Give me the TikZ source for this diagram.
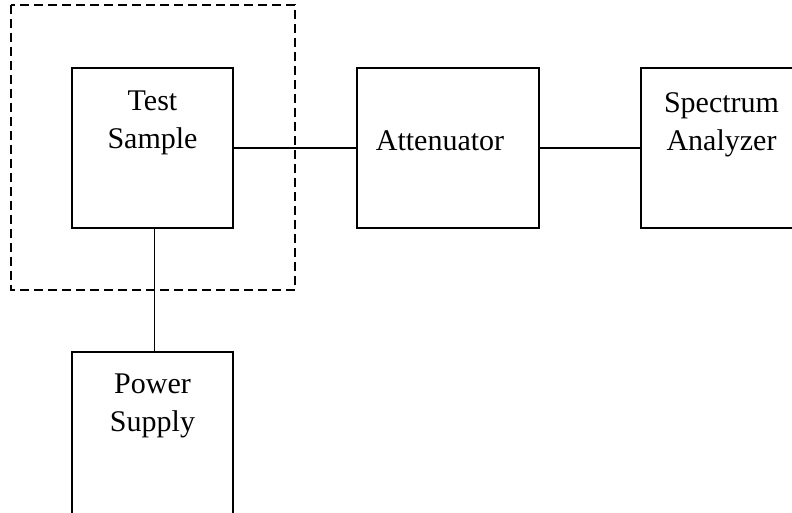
\documentclass[tikz,border=0pt]{standalone}
\usepackage{fontspec}
\setmainfont{Liberation Serif}
\usetikzlibrary{positioning,calc}

\begin{document}
\begin{tikzpicture}[
  x=1pt, y=1pt,
  box/.style={rectangle, draw, line width=1.4pt, minimum height=160pt,
    minimum width=161pt, inner sep=0pt},
  lbl/.style={font=\fontsize{30}{38}\selectfont, align=center, inner sep=0pt, anchor=base},
  wire/.style={line width=1.4pt},
  every node/.style={font=\fontsize{30}{38}\selectfont}
]
  \clip (0,0) rectangle (792,512);
  \useasboundingbox (0,0) rectangle (792,512);

  % Shielded enclosure
  \draw[line width=1.4pt, dash pattern=on 9pt off 5pt] (11,507) rectangle (295,222);

  % Boxes
  \node[box] (sample) at (152.5,364) {};
  \node[box, minimum width=182pt] (atten) at (448,364) {};
  \node[box] (spec) at (721.5,364) {};
  \node[box, minimum height=180pt] (power) at (152.5,70) {};

  % Labels
  \node[lbl] (sampletxt) at ($(sample.center)+(0,-1)$) {Test\\Sample};
  \node[lbl] (attentxt) at ($(atten.center)+(-8,-3)$) {Attenuator};
  \node[lbl] (spectxt) at ($(spec.center)+(0,-3)$) {Spectrum\\Analyzer};
  \node[lbl] (powertxt) at ($(power.north)+(0,-80)$) {Power\\Supply};

  % Wires
  \draw[wire] (sample.east) -- (atten.west);
  \draw[wire] (atten.east) -- (spec.west);
  \draw[wire] ($(sample.south)+(2,0)$) -- ($(power.north)+(2,0)$);
\end{tikzpicture}
\end{document}
